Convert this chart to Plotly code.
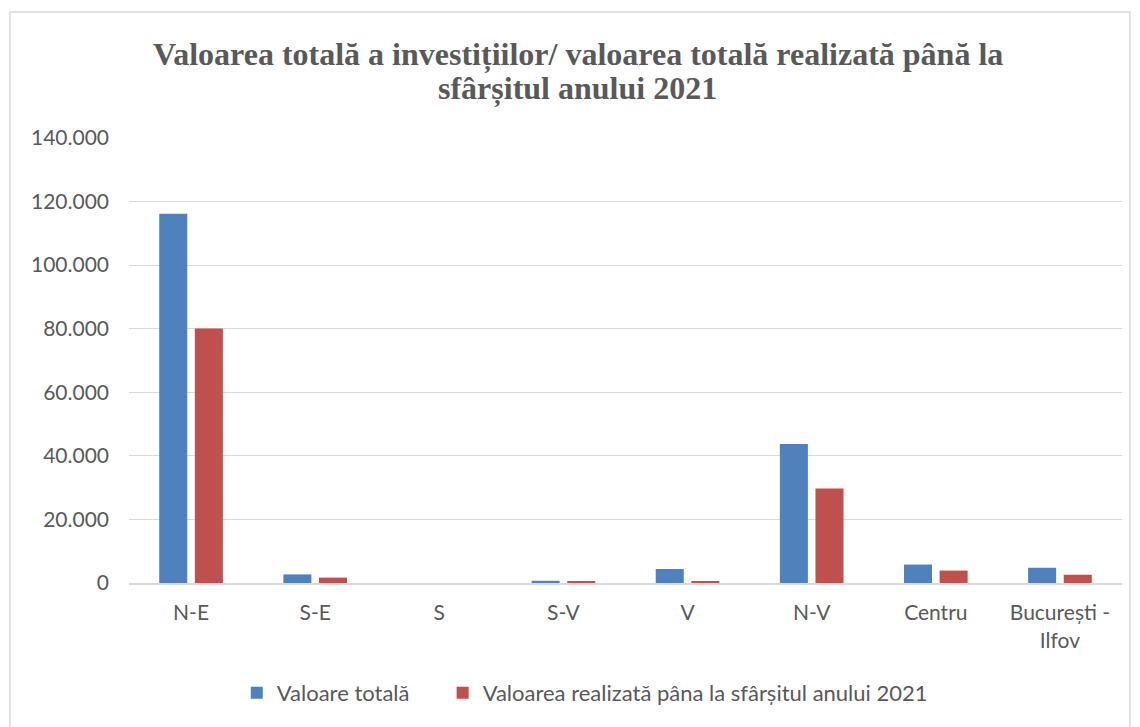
import plotly.graph_objects as go

regions = ["N-E", "S-E", "S", "S-V", "V", "N-V", "Centru", "București -<br>Ilfov"]
valoare_totala = [116200, 2700, 0, 700, 4400, 43700, 5800, 4800]
valoare_realizata = [80100, 1700, 0, 500, 500, 29700, 3900, 2600]
y_ticks = [0, 20000, 40000, 60000, 80000, 100000, 120000, 140000]
y_labels = ["0", "20.000", "40.000", "60.000", "80.000", "100.000", "120.000", "140.000"]
title_lines = ["Valoarea totală a investițiilor/ valoarea totală realizată până la",
               "sfârșitul anului 2021"]

TEXT = "#595959"
GRID = "#D9D9D9"
TITLE_FONT = dict(family="Liberation Serif, Times New Roman, serif", size=32, color=TEXT, weight="bold")
PAD = "\u00a0" * 5  # extra room between legend entries

fig = go.Figure()
fig.add_trace(go.Bar(
    x=regions, y=valoare_totala, name="Valoare totală" + PAD,
    marker=dict(color="#4F81BD", line=dict(width=0)),
))
fig.add_trace(go.Bar(
    x=regions, y=valoare_realizata, name="Valoarea realizată pâna la sfârșitul anului 2021",
    marker=dict(color="#C0504D", line=dict(width=0)),
))

# title as two annotations to keep tight line spacing
for txt, ypos in zip(title_lines, [1.187, 1.112]):
    fig.add_annotation(text=txt, xref="paper", yref="paper", x=0.452, y=ypos,
                       xanchor="center", yanchor="middle", showarrow=False, font=TITLE_FONT)

fig.update_layout(
    width=1132, height=719,
    paper_bgcolor="white", plot_bgcolor="white",
    font=dict(family="Lato, Open Sans, sans-serif", color=TEXT, size=21),
    barmode="group", bargap=0.426, bargroupgap=0.213,
    margin=dict(l=121, r=18, t=130, b=144),
    legend=dict(orientation="h", x=0.459, xanchor="center", y=-0.247, yanchor="middle",
                font=dict(size=22, color=TEXT), traceorder="normal"),
    xaxis=dict(showgrid=False, showline=True, linecolor=GRID, linewidth=2,
               ticks="", ticklabelstandoff=10, tickfont=dict(size=21, color=TEXT)),
    yaxis=dict(range=[0, 140000], tickvals=y_ticks, ticktext=y_labels,
               gridcolor=GRID, gridwidth=1, zeroline=False, showline=False,
               ticks="", ticklabelstandoff=19, tickfont=dict(size=21, color=TEXT)),
    shapes=[dict(type="rect", xref="paper", yref="paper",
                 x0=-0.1198, x1=1.008, y0=-0.4, y1=1.283,
                 line=dict(color="#D9D9D9", width=1.5))],
)

fig.write_html("out.html")
